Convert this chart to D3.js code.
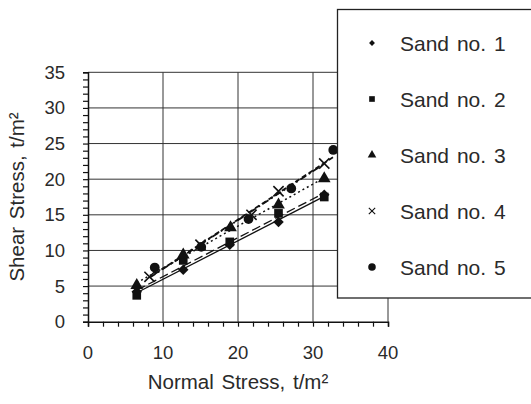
<!DOCTYPE html>
<html>
<head>
<meta charset="utf-8">
<script src="https://cdn.jsdelivr.net/npm/d3@7"></script>
<style>
  body { margin: 0; background: #fff; }
  svg { display: block; }
  text { font-family: "Liberation Sans", Arial, Helvetica, sans-serif; fill: #2a2a2a; }
</style>
</head>
<body>
<svg id="chart" width="531" height="404"></svg>
<script>
// values
const seriesNames = ["Sand no. 1", "Sand no. 2", "Sand no. 3", "Sand no. 4", "Sand no. 5"];
const sand1 = [[6.5, 4.2], [12.7, 7.3], [18.9, 10.8], [25.4, 14.0], [31.5, 17.8]];
const sand2 = [[6.5, 3.7], [12.7, 8.6], [18.9, 11.2], [25.4, 15.2], [31.5, 17.5]];
const sand3 = [[6.5, 5.1], [12.7, 9.4], [19.0, 13.2], [25.4, 16.4], [31.5, 20.1]];
const sand4 = [[8.2, 6.3], [15.0, 10.8], [21.8, 15.0], [25.4, 18.3], [31.5, 22.2]];
const sand5 = [[8.9, 7.6], [15.1, 10.5], [21.4, 14.4], [27.1, 18.7], [32.7, 24.1]];
const xTicks = [0, 10, 20, 30, 40];
const yTicks = [0, 5, 10, 15, 20, 25, 30, 35];

const allSeries = [sand1, sand2, sand3, sand4, sand5];
const markers = [d3.symbolDiamond2, d3.symbolSquare, d3.symbolTriangle, d3.symbolTimes, d3.symbolCircle];
const dashes = [null, "9,4", "2,3", "7,3,2,3", "5,3"];
const lineWidths = [1.3, 1.3, 1.5, 1.8, 1.8];

const svg = d3.select("#chart");
const x = d3.scaleLinear().domain([0, 40]).range([88, 388]);
const y = d3.scaleLinear().domain([0, 35]).range([321.7, 72.3]);

// grid
const grid = svg.append("g").attr("stroke", "#333").attr("stroke-width", 1);
grid.selectAll("line.h").data(yTicks.slice(1)).join("line")
    .attr("x1", x(0)).attr("x2", x(40))
    .attr("y1", d => y(d)).attr("y2", d => y(d));
grid.selectAll("line.v").data(xTicks.slice(1)).join("line")
    .attr("x1", d => x(d)).attr("x2", d => x(d))
    .attr("y1", y(0)).attr("y2", y(35));

// axes
svg.append("g").attr("transform", `translate(0,${y(0)})`)
    .call(d3.axisBottom(x).tickValues(d3.range(0, 41, 2)).tickSize(5).tickFormat(""));
svg.append("g").attr("transform", `translate(${x(0)},0)`)
    .call(d3.axisLeft(y).tickValues(d3.range(0, 36, 1)).tickSize(5).tickFormat(""));
svg.selectAll(".domain").attr("stroke", "#111").attr("stroke-width", 1.5);
svg.selectAll(".tick line").attr("stroke", "#111").attr("stroke-width", 1.2);

svg.append("g").selectAll("text").data(xTicks).join("text")
    .attr("x", d => x(d)).attr("y", 359)
    .attr("text-anchor", "middle").attr("font-size", 18.5)
    .text(d => d);
svg.append("g").selectAll("text").data(yTicks).join("text")
    .attr("x", 65).attr("y", d => y(d) + 6.5)
    .attr("text-anchor", "end").attr("font-size", 18.5)
    .text(d => d);

svg.append("text")
    .attr("transform", "translate(238,389)")
    .attr("text-anchor", "middle").attr("font-size", 20.5).attr("word-spacing", 2)
    .text("Normal Stress, t/m²");
svg.append("text")
    .attr("transform", "translate(24,197) rotate(-90)")
    .attr("text-anchor", "middle").attr("font-size", 20.5).attr("word-spacing", 2)
    .text("Shear Stress, t/m²");

// trend lines (least squares over each series)
function fit(pts) {
    const mx = d3.mean(pts, p => p[0]), my = d3.mean(pts, p => p[1]);
    const b = d3.sum(pts, p => (p[0] - mx) * (p[1] - my)) / d3.sum(pts, p => (p[0] - mx) ** 2);
    const a = my - b * mx;
    const [x0, x1] = d3.extent(pts, p => p[0]);
    return [[x0, a + b * x0], [x1, a + b * x1]];
}
const line = d3.line().x(p => x(p[0])).y(p => y(p[1]));
svg.append("g").selectAll("path").data(allSeries).join("path")
    .attr("d", d => line(fit(d)))
    .attr("fill", "none").attr("stroke", "#111")
    .attr("stroke-width", (d, i) => lineWidths[i])
    .attr("stroke-dasharray", (d, i) => dashes[i]);

// points
const plotSizes = [70, 75, 70, 70, 75];
allSeries.forEach((pts, i) => {
    const sym = d3.symbol().type(markers[i]).size(plotSizes[i]);
    svg.append("g").selectAll("path").data(pts).join("path")
        .attr("transform", p => `translate(${x(p[0])},${y(p[1])})`)
        .attr("d", sym)
        .attr("fill", i == 3 ? "none" : "#111")
        .attr("stroke", "#111")
        .attr("stroke-width", i == 3 ? 1.6 : 0);
});

// legend
const legend = svg.append("g");
legend.append("rect")
    .attr("x", 337.5).attr("y", 9.5).attr("width", 210).attr("height", 288.5)
    .attr("fill", "#fff").attr("stroke", "#222").attr("stroke-width", 1.3);
const legendSizes = [22, 32, 32, 28, 45];
seriesNames.forEach((name, i) => {
    const cy = 43 + i * 56;
    legend.append("path")
        .attr("transform", `translate(372,${cy})`)
        .attr("d", d3.symbol().type(markers[i]).size(legendSizes[i]))
        .attr("fill", i == 3 ? "none" : "#111")
        .attr("stroke", "#111")
        .attr("stroke-width", i == 3 ? 1.1 : 0);
    legend.append("text")
        .attr("x", 400).attr("y", cy + 8)
        .attr("font-size", 21).attr("word-spacing", 2)
        .text(name);
});
</script>
</body>
</html>
